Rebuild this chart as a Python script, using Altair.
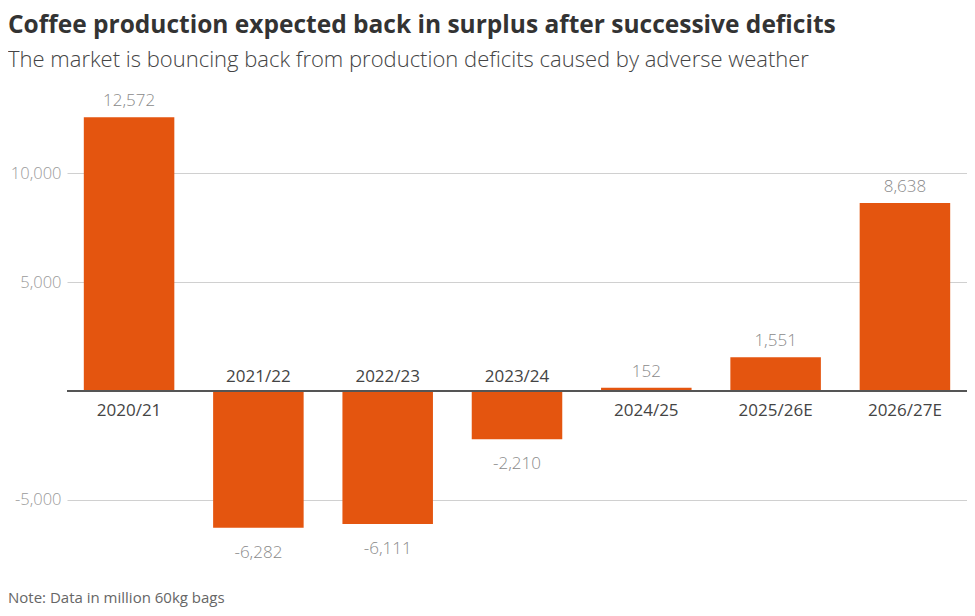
import altair as alt
import pandas as pd

seasons = ["2020/21", "2021/22", "2022/23", "2023/24", "2024/25", "2025/26E", "2026/27E"]
balance = [12572, -6282, -6111, -2210, 152, 1551, 8638]
tick_values = [-5000, 5000, 10000]

df = pd.DataFrame({"season": seasons, "value": balance})
df["zero"] = 0
df["label"] = [f"{v:,}" for v in balance]

FONT = "Open Sans"
ORANGE = "#e4550f"
LEFT = 59
W, H = 959 - LEFT, 490

x = alt.X("season:N", sort=seasons, title=None,
          scale=alt.Scale(paddingInner=0.3, paddingOuter=0.13),
          axis=None)
yscale = alt.Scale(domain=[-9000, 13500], nice=False, zero=False)
yaxis = alt.Axis(values=tick_values, domain=False, ticks=False,
                 labelExpr="replace(format(datum.value, ','), '\u2212', '-')",
                 labelPadding=6, labelFontSize=16.5, labelColor="#9a9a9a",
                 labelFont=FONT, labelFontWeight=300,
                 gridColor="#d0d0d0", gridWidth=1, title=None)


def ych(field):
    return alt.Y(f"{field}:Q", scale=yscale, axis=yaxis, title=None)


base = alt.Chart(df)

bars = base.mark_bar(color=ORANGE).encode(x=x, y=ych("value"), y2="zero:Q")

zero_rule = base.mark_rule(color="#555555", strokeWidth=2).encode(
    y=ych("zero"), x=alt.value(0), x2=alt.value(W))

pos = alt.datum.value >= 0
neg = alt.datum.value < 0

val_pos = base.transform_filter(pos).mark_text(
    font=FONT, fontSize=17, color="#8a8a8a", dy=-11, baseline="alphabetic", fontWeight=300
).encode(x=x, y=ych("value"), text="label:N")

val_neg = base.transform_filter(neg).mark_text(
    font=FONT, fontSize=17, color="#8a8a8a", dy=30, baseline="alphabetic", fontWeight=300
).encode(x=x, y=ych("value"), text="label:N")

cat_pos = base.transform_filter(pos).mark_text(
    font=FONT, fontSize=17, color="#444444", dy=25, baseline="alphabetic"
).encode(x=x, y=ych("zero"), text="season:N")

cat_neg = base.transform_filter(neg).mark_text(
    font=FONT, fontSize=17, color="#444444", dy=-9, baseline="alphabetic"
).encode(x=x, y=ych("zero"), text="season:N")

note = alt.Chart(pd.DataFrame({"t": ["Note: Data in million 60kg bags"]})).mark_text(
    font=FONT, fontSize=15, color="#666666", align="left", baseline="alphabetic"
).encode(x=alt.value(-LEFT), y=alt.value(H + 16), text="t:N")

chart = alt.layer(bars, zero_rule, val_pos, val_neg, cat_pos, cat_neg, note).properties(
    width=W, height=H,
    autosize="none",
    padding={"left": LEFT, "top": 89, "right": 0, "bottom": 21},
    title=alt.TitleParams(
        text="Coffee production expected back in surplus after successive deficits",
        subtitle="The market is bouncing back from production deficits caused by adverse weather",
        anchor="start", frame="group", dx=-LEFT, offset=20,
        font=FONT, fontSize=24.5, fontWeight="bold", color="#333333",
        subtitleFont=FONT, subtitleFontSize=22, subtitleColor="#444444",
        subtitleFontWeight=300, subtitlePadding=12,
    ),
).configure_view(stroke=None)

chart.save("out.html", embed_options={"renderer": "svg", "actions": False})
